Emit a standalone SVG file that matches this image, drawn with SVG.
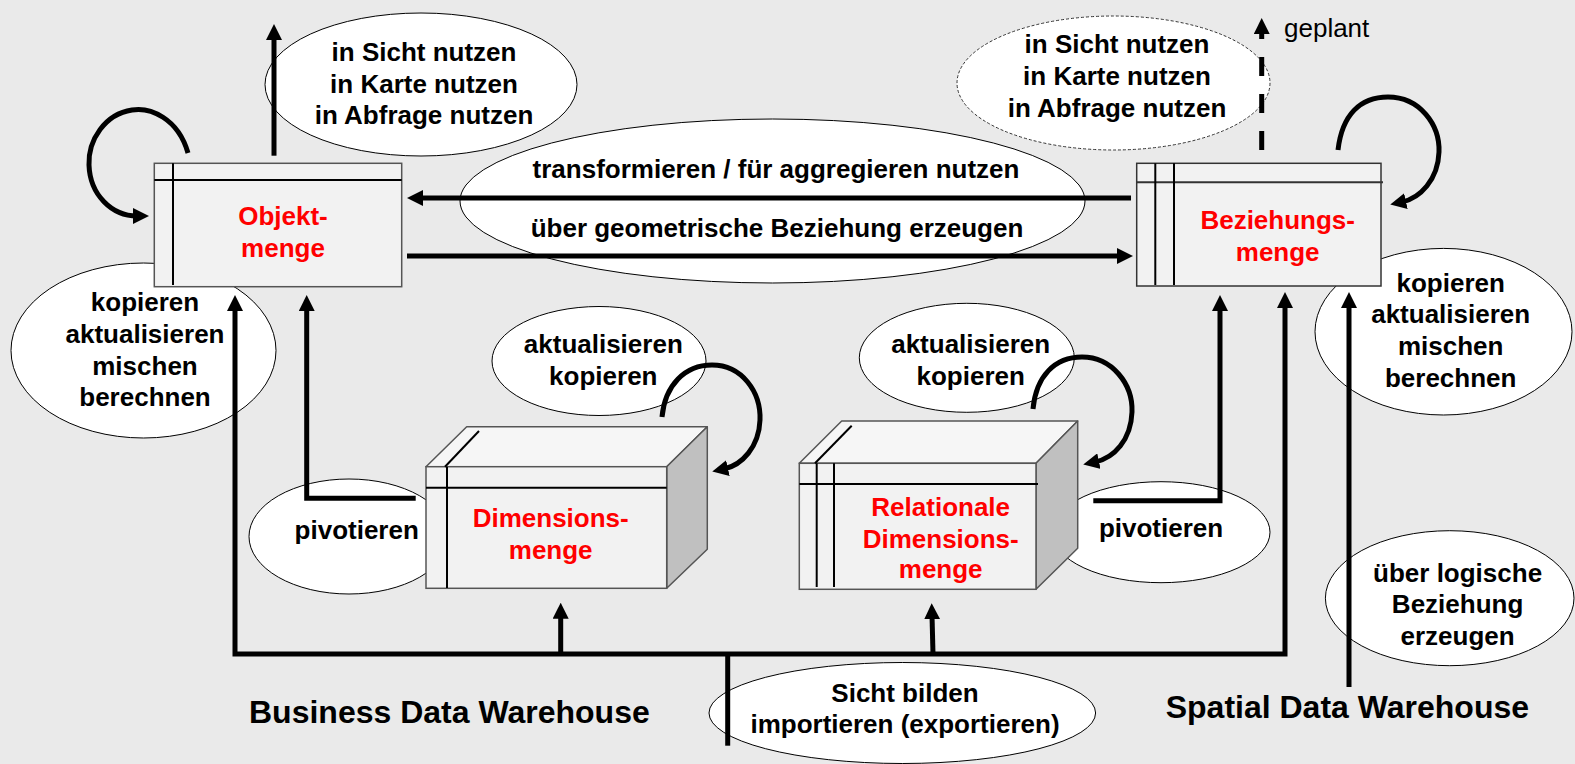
<svg xmlns="http://www.w3.org/2000/svg" width="1575" height="764" viewBox="0 0 1575 764">
<defs>
<style>
.bg{fill:#eaeaea}
.ell{fill:#ffffff;stroke:#000;stroke-width:1}
.dot{fill:#ffffff;stroke:#333;stroke-width:1;stroke-dasharray:3 2}
.lbl{font-family:"Liberation Sans",Arial,sans-serif;font-weight:bold;font-size:26px;fill:#000;text-anchor:middle}
.red{font-family:"Liberation Sans",Arial,sans-serif;font-weight:bold;font-size:26px;fill:#ff0000;text-anchor:middle}
.title{font-family:"Liberation Sans",Arial,sans-serif;font-weight:bold;font-size:32px;fill:#000}
.plain{font-family:"Liberation Sans",Arial,sans-serif;font-size:26px;fill:#000}
.box{fill:#f2f2f2;stroke:#555;stroke-width:1.5}
.front{fill:#f2f2f2;stroke:#555;stroke-width:1.5}
.top{fill:#f6f6f6;stroke:#555;stroke-width:1.5;stroke-linejoin:round}
.side{fill:#c0c0c0;stroke:#555;stroke-width:1.5;stroke-linejoin:round}
.rule{stroke:#000;stroke-width:2;fill:none}
.con{fill:none;stroke:#000;stroke-width:5}
.arr{marker-end:url(#ah)}
</style>
<marker id="ah" viewBox="0 0 16 16" refX="4" refY="8" markerWidth="16" markerHeight="16" markerUnits="userSpaceOnUse" orient="auto-start-reverse">
<path d="M0,0 L16,8 L0,16 z" fill="#000"/>
</marker>
</defs>
<rect class="bg" x="0" y="0" width="1575" height="764"/>

<g id="label-nutzen-left">
<ellipse class="ell" cx="421" cy="84.5" rx="156" ry="71.5"/>
<text class="lbl" x="424" y="61">in Sicht nutzen</text>
<text class="lbl" x="424" y="92.7">in Karte nutzen</text>
<text class="lbl" x="424" y="124">in Abfrage nutzen</text>
</g>
<g id="label-nutzen-right">
<ellipse class="dot" cx="1113.5" cy="83" rx="156.5" ry="67"/>
<text class="lbl" x="1117" y="53.3">in Sicht nutzen</text>
<text class="lbl" x="1117" y="85">in Karte nutzen</text>
<text class="lbl" x="1117" y="116.7">in Abfrage nutzen</text>
</g>
<g id="label-transform">
<ellipse class="ell" cx="772.5" cy="201" rx="312.5" ry="82"/>
<text class="lbl" x="776" y="178.3">transformieren / für aggregieren nutzen</text>
<text class="lbl" x="777" y="236.7">über geometrische Beziehung erzeugen</text>
</g>
<g id="label-kopieren-left">
<ellipse class="ell" cx="143.5" cy="350.5" rx="132.5" ry="87.5"/>
<text class="lbl" x="145" y="311">kopieren</text>
<text class="lbl" x="145" y="343">aktualisieren</text>
<text class="lbl" x="145" y="374.5">mischen</text>
<text class="lbl" x="145" y="406">berechnen</text>
</g>
<g id="label-kopieren-right">
<ellipse class="ell" cx="1443.5" cy="331.7" rx="128.5" ry="83.3"/>
<text class="lbl" x="1450.7" y="291.7">kopieren</text>
<text class="lbl" x="1450.7" y="323.3">aktualisieren</text>
<text class="lbl" x="1450.7" y="355">mischen</text>
<text class="lbl" x="1450.7" y="386.7">berechnen</text>
</g>
<g id="label-aktualisieren-left">
<ellipse class="ell" cx="599" cy="361" rx="107" ry="54.5"/>
<text class="lbl" x="603.3" y="352.7">aktualisieren</text>
<text class="lbl" x="603.3" y="385">kopieren</text>
</g>
<g id="label-aktualisieren-right">
<ellipse class="ell" cx="966.8" cy="357.8" rx="107.5" ry="54.5"/>
<text class="lbl" x="970.7" y="353.3">aktualisieren</text>
<text class="lbl" x="970.7" y="385">kopieren</text>
</g>
<g id="label-pivotieren-left">
<ellipse class="ell" cx="349" cy="536.5" rx="100" ry="57.5"/>
<text class="lbl" x="356.7" y="539.3">pivotieren</text>
</g>
<g id="label-pivotieren-right">
<ellipse class="ell" cx="1161" cy="532.2" rx="109" ry="50.5"/>
<text class="lbl" x="1161" y="537.3">pivotieren</text>
</g>
<g id="label-logisch">
<ellipse class="ell" cx="1449.7" cy="598.2" rx="124.3" ry="67.5"/>
<text class="lbl" x="1457.6" y="581.7">über logische</text>
<text class="lbl" x="1457.6" y="613.3">Beziehung</text>
<text class="lbl" x="1457.6" y="645">erzeugen</text>
</g>
<g id="label-sicht">
<ellipse class="ell" cx="902.3" cy="713" rx="193.3" ry="50.5"/>
<text class="lbl" x="905" y="701.7">Sicht bilden</text>
<text class="lbl" x="905" y="733.3">importieren (exportieren)</text>
</g>

<g id="node-objektmenge">
<rect class="box" x="154.3" y="163.3" width="247.4" height="123.4"/>
<line class="rule" x1="154.3" y1="180" x2="401.7" y2="180"/>
<line class="rule" x1="173" y1="163.3" x2="173" y2="285"/>
<text class="red" x="283" y="225">Objekt-</text>
<text class="red" x="283" y="256.7">menge</text>
</g>
<g id="node-beziehungsmenge">
<rect class="box" x="1136.7" y="163.3" width="244.3" height="122.7" style="stroke:#333"/>
<line class="rule" x1="1136.7" y1="182.3" x2="1383" y2="182.3" style="stroke:#333"/>
<line class="rule" x1="1155.3" y1="163.3" x2="1155.3" y2="285"/>
<line class="rule" x1="1174" y1="163.3" x2="1174" y2="285"/>
<text class="red" x="1277.7" y="229.3">Beziehungs-</text>
<text class="red" x="1277.7" y="261">menge</text>
</g>
<g id="node-dimensionsmenge">
<polygon class="top" points="426,466.7 466.7,426.7 707.3,426.7 666.7,466.7"/>
<polygon class="side" points="666.7,466.7 707.3,426.7 707.3,549.3 666.7,588.3"/>
<rect class="front" x="426" y="466.7" width="240.7" height="121.6"/>
<line class="rule" x1="426" y1="487.7" x2="666.7" y2="487.7"/>
<line class="rule" x1="447" y1="466.7" x2="447" y2="588"/>
<line class="rule" x1="445" y1="466.7" x2="479" y2="431"/>
<text class="red" x="550.7" y="526.7">Dimensions-</text>
<text class="red" x="550.7" y="559.3">menge</text>
</g>
<g id="node-relationale-dimensionsmenge">
<polygon class="top" points="799.3,463.3 841.7,421 1077.7,421 1036,463.3"/>
<polygon class="side" points="1036,463.3 1077.7,421 1077.7,548.3 1036,589.3"/>
<rect class="front" x="799.3" y="463.3" width="236.7" height="126"/>
<line class="rule" x1="799.3" y1="484" x2="1038" y2="484"/>
<line class="rule" x1="816.7" y1="463.3" x2="816.7" y2="587"/>
<line class="rule" x1="834" y1="463.3" x2="834" y2="587"/>
<line class="rule" x1="815" y1="463.3" x2="851.7" y2="425.7"/>
<text class="red" x="940.7" y="516">Relationale</text>
<text class="red" x="940.7" y="547.7">Dimensions-</text>
<text class="red" x="940.7" y="578.3">menge</text>
</g>

<g id="connectors">
<path class="con arr" d="M274,155.7 V36"/>
<path class="con arr" d="M1131,198 H419"/>
<path class="con arr" d="M407,256 H1121"/>
<path class="con" d="M235,307 V654 H1285 V304" marker-start="url(#ah)" marker-end="url(#ah)"/>
<path class="con arr" d="M415.7,498.3 H306.7 V307"/>
<path class="con arr" d="M1093.3,500.7 H1220 V307"/>
<path class="con arr" d="M1349,687 V304"/>
<path class="con" d="M727.7,654 V745.7"/>
<path class="con arr" d="M560.7,654 V614.7"/>
<path class="con arr" d="M933,654 L932,615.3"/>
<path class="con arr" d="M1261.7,150 V30" style="stroke-dasharray:19 18"/>
<path class="con arr" d="M188,153 C178,118 150,107 132,110 C105,114 88,140 89,165 C90,195 112,216 137,216"/>
<path class="con arr" d="M1338,150 C1342,115 1360,97 1388,97 C1420,97 1440,125 1439,152 C1438,180 1420,198 1402,202"/>
<path class="con arr" d="M662,417 C665,385 685,365 712,365 C742,365 761,392 760,420 C759,447 742,465 724,469"/>
<path class="con arr" d="M1033,409 C1036,376 1055,357 1082,357 C1112,357 1133,384 1132,412 C1131,440 1114,458 1095,462"/>
</g>

<text class="plain" x="1284" y="37">geplant</text>
<text class="title" x="249" y="723">Business Data Warehouse</text>
<text class="title" x="1165.7" y="718">Spatial Data Warehouse</text>
</svg>
